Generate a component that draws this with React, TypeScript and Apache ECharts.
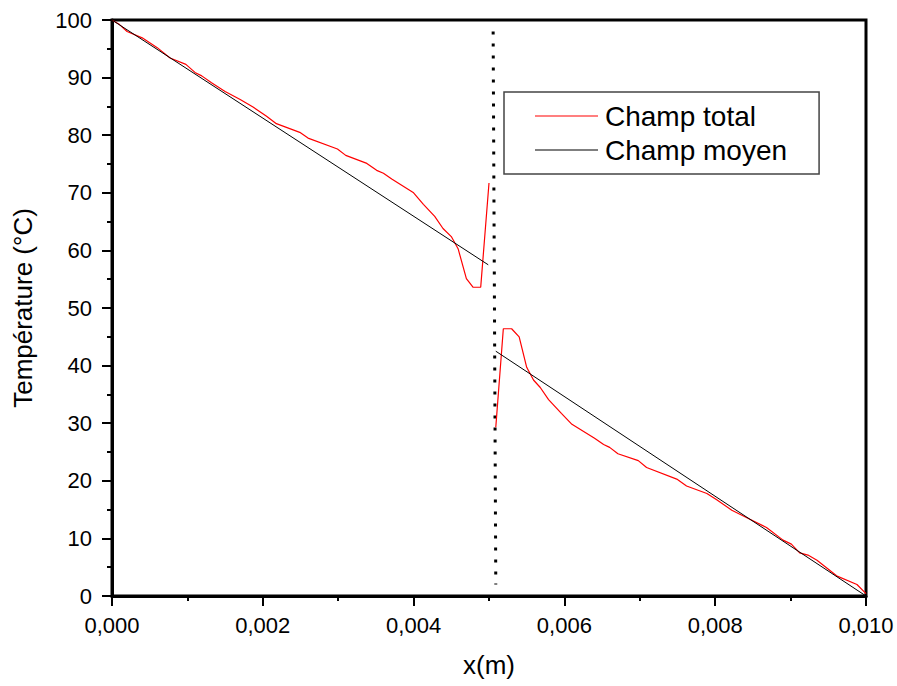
import React, { useEffect, useRef } from "react";
import * as echarts from "echarts";

const totalLeftX = [0, 0.0001, 0.0002, 0.0004, 0.0006, 0.00077, 0.00098, 0.0011, 0.00119, 0.00132, 0.0015, 0.0017, 0.00187, 0.00205, 0.00218, 0.00249, 0.0026, 0.00299, 0.0031, 0.00338, 0.00351, 0.0036, 0.00371, 0.004, 0.00413, 0.00428, 0.00439, 0.0045, 0.00459, 0.0047, 0.00479, 0.00489, 0.005];
const totalLeftY = [100, 99.2, 98.0, 96.9, 95.2, 93.4, 92.3, 90.9, 90.3, 89.1, 87.6, 86.2, 84.9, 83.3, 82.0, 80.5, 79.5, 77.6, 76.5, 75.1, 73.9, 73.4, 72.4, 70.0, 68.0, 65.9, 63.8, 62.4, 60.3, 55.1, 53.6, 53.6, 71.7];
const totalRightX = [0.00509, 0.00519, 0.0053, 0.0054, 0.0055, 0.00559, 0.00568, 0.00579, 0.00596, 0.0061, 0.0064, 0.00652, 0.0066, 0.00671, 0.00698, 0.00709, 0.00749, 0.00762, 0.00789, 0.00802, 0.00822, 0.00842, 0.00868, 0.0089, 0.00901, 0.00912, 0.00923, 0.00935, 0.00961, 0.00988, 0.01];
const totalRightY = [29.3, 46.4, 46.4, 45.0, 39.7, 37.5, 36.2, 34.1, 31.7, 29.8, 27.4, 26.3, 25.8, 24.7, 23.5, 22.3, 20.3, 19.1, 17.8, 16.7, 14.9, 13.6, 11.9, 9.7, 9.0, 7.5, 7.1, 6.2, 3.5, 2.0, 0.4];

const meanLeftX = [0, 0.00499];
const meanLeftY = [100, 57.5];
const meanRightX = [0.00509, 0.01];
const meanRightY = [42.5, 0];

const interfaceX = [0.005055, 0.00509];
const interfaceY = [98, 2];

const xTicks = { min: 0, max: 0.01, interval: 0.002 };
const yTicks = { min: 0, max: 100, interval: 10 };

const FONT = "'Liberation Sans', Arial, sans-serif";

function pairs(xs: number[], ys: number[]) {
  return xs.map((x, i) => [x, ys[i]]);
}

export default function App() {
  const ref = useRef<HTMLDivElement>(null);
  useEffect(() => {
    document.body.style.margin = "0";
    const chart = echarts.init(ref.current!, null, { renderer: "svg" });
    const brk = [[0.00504, "-"]];
    chart.setOption({
      animation: false,
      backgroundColor: "#fff",
      textStyle: { fontFamily: FONT },
      grid: {
        left: 112,
        right: 31,
        top: 20,
        bottom: 90,
        show: true,
        borderColor: "#000",
        borderWidth: 3,
        containLabel: false,
      },
      legend: {
        orient: "vertical",
        left: 504,
        top: 92,
        padding: [9, 32, 9, 31],
        borderColor: "#444",
        borderWidth: 1.5,
        icon: "rect",
        itemWidth: 63,
        itemHeight: 1.2,
        itemGap: 4,
        data: ["Champ total", "Champ moyen"],
        textStyle: { fontSize: 28, fontFamily: FONT, color: "#000", lineHeight: 30, padding: [0, 0, 0, 2] },
      },
      xAxis: {
        type: "value",
        min: xTicks.min,
        max: xTicks.max,
        interval: xTicks.interval,
        name: "x(m)",
        nameLocation: "middle",
        nameGap: 56,
        nameTextStyle: { fontSize: 26, color: "#000", fontFamily: FONT },
        axisLine: { show: true, lineStyle: { color: "#000", width: 3 } },
        axisTick: { show: true, length: 10, lineStyle: { color: "#000", width: 2 } },
        minorTick: { show: true, splitNumber: 2, length: 5, lineStyle: { color: "#000", width: 2 } },
        splitLine: { show: false },
        axisLabel: {
          fontSize: 22,
          color: "#000",
          margin: 18,
          fontFamily: FONT,
          formatter: (v: number) => v.toFixed(3).replace(".", ","),
        },
      },
      yAxis: {
        type: "value",
        min: yTicks.min,
        max: yTicks.max,
        interval: yTicks.interval,
        name: "Température (°C)",
        nameLocation: "middle",
        nameGap: 76,
        nameTextStyle: { fontSize: 26, color: "#000", fontFamily: FONT },
        axisLine: { show: true, lineStyle: { color: "#000", width: 3 } },
        axisTick: { show: true, length: 10, lineStyle: { color: "#000", width: 2 } },
        minorTick: { show: true, splitNumber: 2, length: 5, lineStyle: { color: "#000", width: 2 } },
        splitLine: { show: false },
        axisLabel: { fontSize: 22, color: "#000", margin: 20, fontFamily: FONT },
      },
      series: [
        {
          name: "Champ total",
          type: "line",
          symbol: "none",
          connectNulls: false,
          color: "#ff0000",
          lineStyle: { color: "#ff0000", width: 1.2 },
          data: [...pairs(totalLeftX, totalLeftY), ...brk, ...pairs(totalRightX, totalRightY)],
          z: 3,
        },
        {
          name: "Champ moyen",
          type: "line",
          symbol: "none",
          connectNulls: false,
          color: "#000",
          lineStyle: { color: "#000", width: 1 },
          data: [...pairs(meanLeftX, meanLeftY), ...brk, ...pairs(meanRightX, meanRightY)],
          z: 4,
        },
        {
          name: "interface",
          type: "line",
          symbol: "none",
          color: "#000",
          lineStyle: { color: "#000", width: 3, type: [3, 9] },
          data: pairs(interfaceX, interfaceY),
          z: 2,
        },
      ],
    });
    return () => chart.dispose();
  }, []);
  return <div ref={ref} style={{ width: 897, height: 686 }} />;
}
